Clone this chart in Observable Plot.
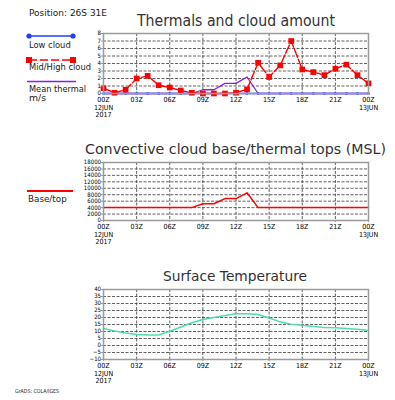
<!DOCTYPE html>
<html><head><meta charset="utf-8">
<script src="https://cdn.jsdelivr.net/npm/d3@7"></script>
<script src="https://cdn.jsdelivr.net/npm/@observablehq/plot@0.6"></script>
<style>
body{margin:0;background:#fff;}
#wrap{position:relative;width:395px;height:400px;overflow:hidden;background:#fff;}
#wrap > svg{position:absolute;left:0;}
</style></head><body><div id="wrap"></div>
<script>
// ---- data ----
const hours = [0,1,2,3,4,5,6,7,8,9,10,11,12,13,14,15,16,17,18,19,20,21,22,23,24];
const xTicks = [0,3,6,9,12,15,18,21,24];
const xTickLabels = ["00Z\n12JUN\n2017","03Z","06Z","09Z","12Z","15Z","18Z","21Z","00Z\n13JUN"];
const lowCloud = [0,0,0,0,0,0,0,0,0,0,0,0,0,0,0,0,0,0,0,0,0,0,0,0,0];
const midHighCloud = [0.7,0.1,0.5,2.0,2.35,1.1,0.8,0.4,0.1,0,0,0,0.1,0.55,4.1,2.2,3.75,7.0,3.2,2.85,2.45,3.3,3.85,2.45,1.35];
const meanThermal = [0,0,0,0,0,0,0,0,0,0.5,0.5,1.35,1.35,2.2,0,0,0,0,0,0,0,0,0,0,0];
const baseTop = [4000,4000,4000,4000,4000,4000,4000,4000,4000,5200,5200,6800,6800,8600,4000,4000,4000,4000,4000,4000,4000,4000,4000,4000,4000];
const surfaceTemp = [12.1,10.3,9.0,7.9,7.5,7.5,10.2,13.2,16.2,18.6,20.0,21.5,22.7,22.6,22.1,19.7,16.9,15.2,14.5,13.6,12.9,12.7,12.1,11.6,10.8];
const cloudTicks = [0,1,2,3,4,5,6,7,8];
const heightTicks = [0,2000,4000,6000,8000,10000,12000,14000,16000,18000];
const tempTicks = [-10,-5,0,5,10,15,20,25,30,35,40];
const panelTitles = ["Thermals and cloud amount","Convective cloud base/thermal tops (MSL)","Surface Temperature"];
const legendLabels = ["Low cloud","Mid/High cloud","Mean thermal","m/s","Base/top"];
const positionText = "Position: 26S 31E";
const creditText = "GrADS: COLA/IGES";

// ---- colours ----
const BLUE = "#1f3dff", RED = "#ff0000", PURPLE = "#8a1ee6", TEAL = "#4fdcb0";
const FONT = "'DejaVu Sans Condensed','Liberation Sans Narrow','DejaVu Sans',sans-serif";

const wrap = document.getElementById("wrap");
const rows = (vals) => hours.map((h, i) => ({hour: h, value: vals[i]}));

function panel({top, marginTop, plotH, yDomain, yTicks, yFont, marks}) {
  const plot = Plot.plot({
    width: 395,
    height: marginTop + plotH + 28,
    marginLeft: 103, marginRight: 27, marginTop, marginBottom: 28,
    x: {domain: [0, 24]},
    y: {domain: yDomain},
    style: {fontFamily: FONT, fontSize: "7px", background: "transparent", overflow: "visible", color: "#000"},
    marks: [
      Plot.ruleY(yTicks.slice(1, -1), {stroke: "#3a3a3a", strokeDasharray: "3,1.5", strokeWidth: 0.8}),
      Plot.ruleX(xTicks.slice(1, -1), {stroke: "#3a3a3a", strokeDasharray: "3,1.5", strokeWidth: 0.8}),
      ...marks,
      Plot.frame({stroke: "#9a9a9a", strokeWidth: 1.5}),
      Plot.axisY({ticks: yTicks, tickFormat: d => String(d).replace("-", "\u2212"), tickSize: 2, tickPadding: 0.5, label: null, stroke: "#9a9a9a", fontSize: yFont}),
      Plot.axisX({ticks: xTicks, tickFormat: d => xTickLabels[xTicks.indexOf(d)], tickSize: 2, tickPadding: 1.5, label: null, lineHeight: 1.05, stroke: "#9a9a9a"})
    ]
  });
  plot.style.top = top + "px";
  wrap.appendChild(plot);
}

// Panel 1: thermals and cloud amount
panel({
  top: 20, marginTop: 13, plotH: 60, yDomain: [0, 8], yTicks: cloudTicks, yFont: 6,
  marks: [
    Plot.line(rows(meanThermal), {x: "hour", y: "value", stroke: PURPLE, strokeWidth: 1.3}),
    Plot.line(rows(lowCloud), {x: "hour", y: "value", stroke: BLUE, strokeWidth: 1.5}),
    Plot.dot(rows(lowCloud), {x: "hour", y: "value", fill: BLUE, r: 1.3}),
    Plot.line(rows(midHighCloud), {x: "hour", y: "value", stroke: RED, strokeWidth: 1.4, strokeDasharray: "9,2"}),
    Plot.dot(rows(midHighCloud), {x: "hour", y: "value", fill: RED, symbol: "square", r: 3.2})
  ]
});

// Panel 2: convective cloud base / thermal tops
panel({
  top: 155, marginTop: 7, plotH: 58, yDomain: [0, 18000], yTicks: heightTicks, yFont: 6,
  marks: [
    Plot.line(rows(baseTop), {x: "hour", y: "value", stroke: RED, strokeWidth: 1.5})
  ]
});

// Panel 3: surface temperature
panel({
  top: 282, marginTop: 7, plotH: 70, yDomain: [-10, 40], yTicks: tempTicks, yFont: 6,
  marks: [
    Plot.line(rows(surfaceTemp), {x: "hour", y: "value", stroke: TEAL, strokeWidth: 1.5})
  ]
});

// ---- titles, legends, annotations ----
const ns = "http://www.w3.org/2000/svg";
const ov = document.createElementNS(ns, "svg");
ov.setAttribute("width", 395); ov.setAttribute("height", 400);
ov.style.top = "0px";
ov.style.pointerEvents = "none";
function txt(s, x, y, size, len, fill = "#222") {
  const t = document.createElementNS(ns, "text");
  t.setAttribute("x", x); t.setAttribute("y", y);
  t.setAttribute("font-size", size);
  t.setAttribute("font-family", "'DejaVu Sans',sans-serif");
  t.setAttribute("fill", fill);
  t.setAttribute("textLength", len);
  t.setAttribute("lengthAdjust", "spacingAndGlyphs");
  t.textContent = s;
  ov.appendChild(t);
}
function el(tag, attrs) {
  const e = document.createElementNS(ns, tag);
  for (const k in attrs) e.setAttribute(k, attrs[k]);
  ov.appendChild(e);
}
txt(positionText, 29, 15.7, 9, 78);
txt(panelTitles[0], 137, 26, 15, 198, "#333");
txt(panelTitles[1], 85, 154, 14.5, 301, "#333");
txt(panelTitles[2], 163, 281, 14, 144, "#333");
txt(creditText, 15, 392.5, 5.5, 44);
// legend: low cloud
el("line", {x1: 29, y1: 36, x2: 73, y2: 36, stroke: BLUE, "stroke-width": 1.5});
el("circle", {cx: 29, cy: 36, r: 2.6, fill: BLUE});
el("circle", {cx: 73, cy: 36, r: 2.6, fill: BLUE});
txt(legendLabels[0], 29, 47.7, 9.5, 41.7);
// legend: mid/high cloud
el("line", {x1: 29, y1: 60, x2: 73, y2: 60, stroke: RED, "stroke-width": 1.5, "stroke-dasharray": "8,3"});
el("rect", {x: 26, y: 57, width: 6, height: 6, fill: RED});
el("rect", {x: 70, y: 57, width: 6, height: 6, fill: RED});
txt(legendLabels[1], 29, 69.7, 8.5, 62);
// legend: mean thermal
el("line", {x1: 27, y1: 81.5, x2: 76, y2: 81.5, stroke: PURPLE, "stroke-width": 1.3});
txt(legendLabels[2], 29, 92.3, 8.5, 57);
txt(legendLabels[3], 29, 101.3, 8.5, 17);
// legend: base/top
el("line", {x1: 27, y1: 191, x2: 73, y2: 191, stroke: RED, "stroke-width": 2});
txt(legendLabels[4], 28, 202, 9.5, 38.7);
wrap.appendChild(ov);
</script>
</body></html>
